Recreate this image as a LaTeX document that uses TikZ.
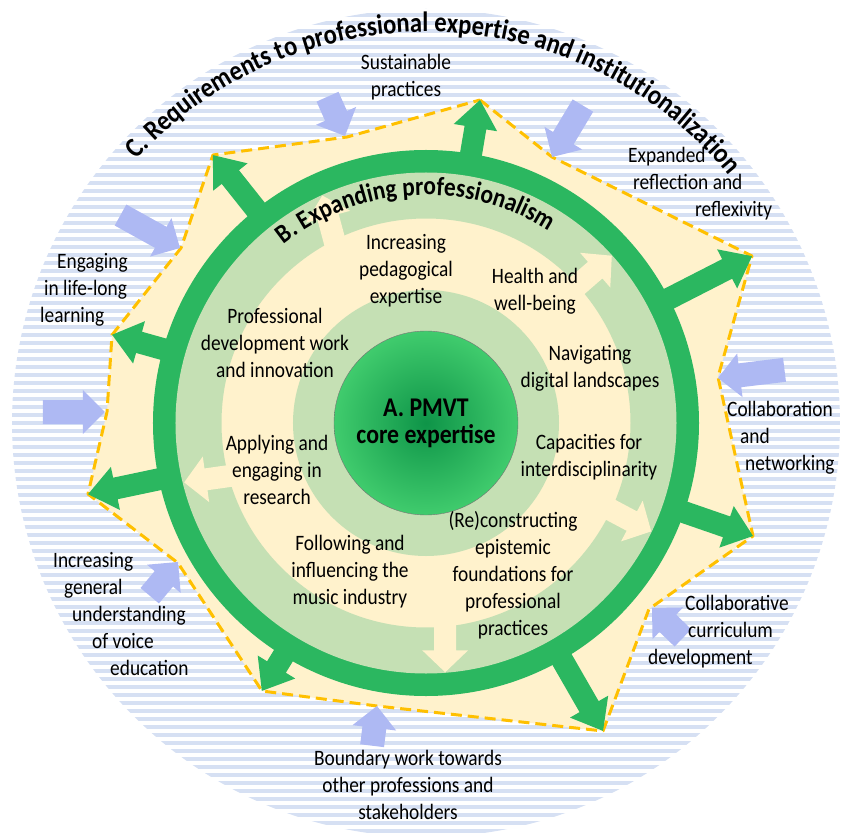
\documentclass[tikz,border=0pt]{standalone}
\usepackage{fontspec}
\setmainfont{Carlito}[FakeStretch=0.88]
\usetikzlibrary{decorations.text}

\definecolor{ringgreen}{RGB}{43,183,96}
\definecolor{bandgreen}{RGB}{197,224,180}
\definecolor{creamfill}{RGB}{255,242,204}
\definecolor{dashorange}{RGB}{255,192,0}
\definecolor{pushblue}{RGB}{174,185,243}
\definecolor{stripeblue}{RGB}{214,224,243}
\definecolor{coredark}{RGB}{14,148,72}
\definecolor{corelight}{RGB}{68,208,112}
\pgfdeclareradialshading{coreglow}{\pgfpoint{0bp}{0bp}}{color(0bp)=(coredark); color(27bp)=(corelight); color(50bp)=(corelight)}

\newcommand{\labelfont}{\fontsize{22}{27}\selectfont}
\newcommand{\titlefont}{\bfseries\fontsize{28}{30}\selectfont}
\newcommand{\ringfont}{\bfseries\fontsize{26.5}{28}\selectfont}

\begin{document}
\begin{tikzpicture}[x=1pt,y=1pt]
% Diagram style
\tikzset{
    stripe/.style={draw=stripeblue, line width=3.6pt},
    outer zone/.style={fill=creamfill, draw=dashorange, line width=3pt, dash pattern=on 11pt off 6pt, line join=round},
    green arrow/.style={fill=ringgreen},
    cream arrow/.style={fill=creamfill},
    push arrow/.style={fill=pushblue},
    ring text/.style={font=\labelfont, align=center, inner sep=0pt},
    side text/.style={ring text, align=left, anchor=west},
    core/.style={circle, minimum size=184pt, inner sep=0pt, shading=coreglow, draw=black!55, line width=0.4pt, font=\bfseries\fontsize{27}{27}\selectfont, align=center},
    pics/blockarrow/.style n args={4}{code={
        \path[pic actions] (0,0) -- (-#2,#3) -- (-#2,#4) -- (-#1,#4)
            -- (-#1,-#4) -- (-#2,-#4) -- (-#2,-#3) -- cycle;
    }}
}
\useasboundingbox (-426,-409) rectangle (416,423);

% Striped outer circle (C)
\begin{scope}
    \clip (0,0) circle[radius=414];
    \foreach \k in {-52,...,52}
        \draw[stripe] (-414,\k*8) -- (414,\k*8);
\end{scope}

% Field of expanding professionalism
\draw[outer zone] (54,323) -- (126,266) -- (326,167) -- (292,46) -- (327,-113)
    -- (223,-186) -- (177,-308) -- (-49,-283) -- (-164,-268) -- (-248,-140)
    -- (-338,-71) -- (-319,11) -- (-314,88) -- (-245,175) -- (-213,268)
    -- (-79,286) -- cycle;

% Green arrows out of ring B
\pic[green arrow, rotate=80.5] at (80.5:327.5) {blockarrow={65.5}{28}{22}{11}};
\pic[green arrow, rotate=27.1] at (27.1:366.3) {blockarrow={104}{28}{22}{11}};
\pic[green arrow, rotate=-19.06] at (-19.06:346) {blockarrow={84}{28}{22}{11}};
\pic[green arrow, rotate=-60.1] at (-60.1:355.2) {blockarrow={93}{28}{22}{11}};
\pic[green arrow, rotate=238.5] at (238.5:314.2) {blockarrow={52}{28}{22}{11}};
\pic[green arrow, rotate=191.9] at (191.9:345.4) {blockarrow={83}{28}{22}{11}};
\pic[green arrow, rotate=164.3] at (164.3:326.1) {blockarrow={64}{28}{22}{11}};
\pic[green arrow, rotate=128.5] at (128.5:342.3) {blockarrow={80}{28}{22}{11}};

% Rings
\draw[ringgreen, line width=23pt] (0,0) circle[radius=261.5];
\draw[bandgreen, line width=46pt] (0,0) circle[radius=227.5];
\pic[cream arrow, rotate=-90] at (-85.6:250) {blockarrow={60}{22}{23}{11}};
\pic[cream arrow, rotate=-28] at (-25.7:250) {blockarrow={60}{22}{23}{11}};
\pic[cream arrow, rotate=41] at (42:250) {blockarrow={60}{22}{23}{11}};
\pic[cream arrow, rotate=105] at (114.5:250) {blockarrow={60}{22}{23}{11}};
\pic[cream arrow, rotate=188] at (193.8:249) {blockarrow={60}{22}{23}{11}};
\draw[bandgreen, line width=41pt] (0,0) circle[radius=112.5];

% Blue arrows pushing in from C
\pic[push arrow, rotate=-66] at (-81,287) {blockarrow={43}{22}{22}{12}};
\pic[push arrow, rotate=-121] at (126,266) {blockarrow={60}{22}{22}{12}};
\pic[push arrow, rotate=187] at (292,45) {blockarrow={67}{22}{22}{12}};
\pic[push arrow, rotate=136] at (226,-185) {blockarrow={43}{22}{22}{12}};
\pic[push arrow, rotate=83] at (-49,-283) {blockarrow={40}{22}{22}{12}};
\pic[push arrow, rotate=50] at (-248,-139) {blockarrow={44}{22}{22}{12}};
\pic[push arrow, rotate=0] at (-321,11) {blockarrow={62}{22}{22}{12}};
\pic[push arrow, rotate=-29] at (-246,175) {blockarrow={68}{22}{22}{12}};

% Core A
\node[core] (Corea) at (0,0){A. PMVT\\core expertise};

% Curved titles
\path[decorate, decoration={text along path, text align=center,
    text={|\titlefont|C. Requirements to professional expertise and institutionalization}}]
    (150:391) arc[start angle=150, end angle=27, radius=391];
\path[decorate, decoration={text along path, text align=center,
    text={|\ringfont|B. Expanding professionalism}}]
    (150:228) arc[start angle=150, end angle=36, radius=228];

% Labels ring B
\node[ring text] (Pedb) at (-20,152){Increasing\\pedagogical\\expertise};
\node[ring text] (Healthb) at (109,132){Health and\\well-being};
\node[ring text] (Digb) at (164,55){Navigating\\digital landscapes};
\node[ring text] (Interb) at (163,-34){Capacities for\\interdisciplinarity};
\node[ring text] (Epistb) at (87,-152){(Re)constructing\\epistemic\\foundations for\\professional\\practices};
\node[ring text] (Musicb) at (-76,-149){Following and\\influencing the\\music industry};
\node[ring text] (Researchb) at (-149,-47){Applying and\\engaging in\\research};
\node[ring text] (Devb) at (-151,80){Professional\\development work\\and innovation};

% Labels ring C
\node[ring text] (Sustc) at (-20,346){Sustainable\\practices};
\node[side text] (Reflc) at (202,239){Expanded\\\hspace*{5pt}reflection and\\\hspace*{67pt}reflexivity};
\node[side text] (Lifec) at (-386,133){\hspace*{17pt}Engaging\\\hspace*{4pt}in life-long\\learning};
\node[side text] (Netc) at (301,-15){Collaboration\\\hspace*{13pt}and\\\hspace*{18pt}networking};
\node[side text] (Currc) at (222,-209){\hspace*{37pt}Collaborative\\\hspace*{40pt}curriculum\\development};
\node[ring text] (Boundc) at (-18,-362){Boundary work towards\\other professions and\\stakeholders};
\node[side text] (Voicec) at (-373,-191.5){Increasing\\\hspace*{11pt}general\\\hspace*{19pt}understanding\\\hspace*{39pt}of voice\\\hspace*{57pt}education};
\end{tikzpicture}
\end{document}
